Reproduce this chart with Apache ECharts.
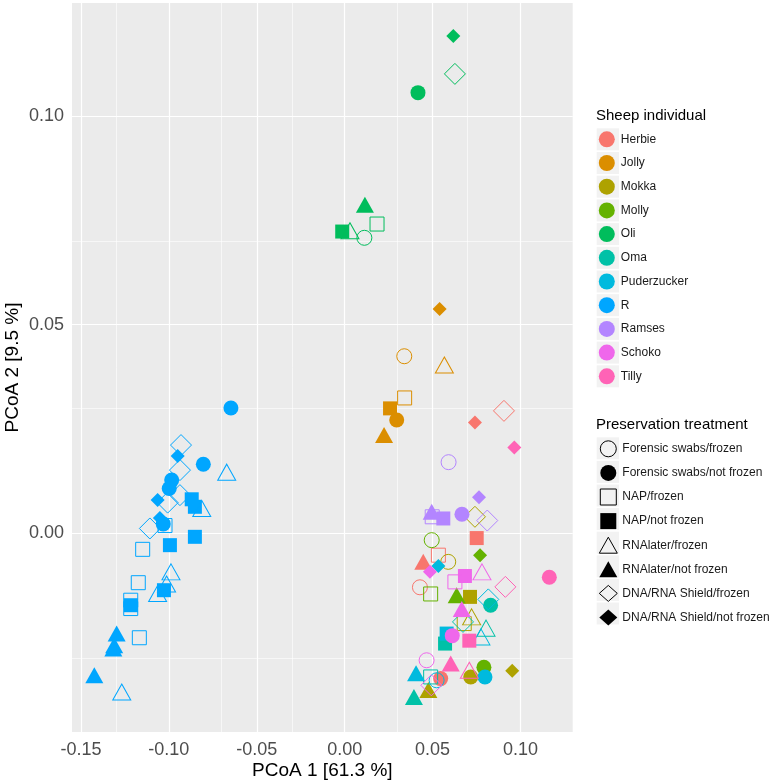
<!DOCTYPE html>
<html><head><meta charset="utf-8">
<script src="https://cdn.jsdelivr.net/npm/echarts@6/dist/echarts.min.js"></script>
<style>html,body{margin:0;padding:0;background:#fff}#c{width:773px;height:783px}</style>
</head><body><div id="c"></div>
<script>
// ---- data ----
const individuals = ['Herbie','Jolly','Mokka','Molly','Oli','Oma','Puderzucker','R','Ramses','Schoko','Tilly'];
const colors = ['#F8766D','#DB8E00','#AEA200','#64B200','#00BD5C','#00C1A7','#00BADE','#00A6FF','#B385FF','#EF67EB','#FF63B6'];
const treatments = ['Forensic swabs/frozen','Forensic swabs/not frozen','NAP/frozen','NAP/not frozen','RNAlater/frozen','RNAlater/not frozen','DNA/RNA Shield/frozen','DNA/RNA Shield/not frozen'];
// [PCoA1, PCoA2, treatment index]
const herbie = [[0.0741,0.0265,7],[0.0906,0.0293,6],[0.0751,-0.0012,3],[0.0447,-0.0069,5],[0.0428,-0.0130,0],[0.0533,-0.0053,2],[0.0546,-0.0349,1]];
const jolly = [[0.0540,0.0537,7],[0.0339,0.0424,0],[0.0567,0.0403,4],[0.0341,0.0324,2],[0.0258,0.0299,3],[0.0296,0.0271,1],[0.0224,0.0235,5]];
const mokka = [[0.0741,0.0039,6],[0.0589,-0.0069,0],[0.0713,-0.0153,3],[0.0722,-0.0201,4],[0.0680,-0.0217,2],[0.0717,-0.0345,1],[0.0953,-0.0330,7],[0.0476,-0.0376,5]];
const molly = [[0.0495,-0.0017,0],[0.0770,-0.0053,7],[0.0489,-0.0146,2],[0.0637,-0.0149,5],[0.0792,-0.0322,1]];
const oli = [[0.0618,0.1192,7],[0.0627,0.1101,6],[0.0417,0.1056,1],[0.0115,0.0787,5],[0.0184,0.0741,2],[-0.0014,0.0723,3],[0.0030,0.0725,4],[0.0112,0.0708,0]];
const oma = [[0.0830,-0.0173,1],[0.0673,-0.0213,6],[0.0571,-0.0265,3],[0.0394,-0.0393,5],[0.0804,-0.0228,4],[0.0489,-0.0345,2]];
const puderzucker = [[0.0533,-0.0079,7],[0.0580,-0.0241,3],[0.0775,-0.0249,4],[0.0817,-0.0159,6],[0.0406,-0.0336,5],[0.0798,-0.0345,1],[0.0523,-0.0353,0]];
const rSheep = [[-0.0647,0.0300,1],[-0.0931,0.0211,6],[-0.0950,0.0185,7],[-0.0804,0.0165,1],[-0.0671,0.0146,4],[-0.0937,0.0151,6],[-0.0984,0.0127,1],[-0.0998,0.0107,1],[-0.0937,0.0091,6],[-0.1064,0.0079,7],[-0.1007,0.0073,6],[-0.0870,0.0081,3],[-0.0852,0.0063,3],[-0.0813,0.0059,4],[-0.1108,0.0011,6],[-0.1032,0.0022,1],[-0.1022,0.0018,2],[-0.1051,0.0036,7],[-0.0852,-0.0009,3],[-0.0994,-0.0029,3],[-0.1149,-0.0039,2],[-0.0988,-0.0093,4],[-0.1174,-0.0119,2],[-0.1013,-0.0122,4],[-0.1028,-0.0137,3],[-0.1064,-0.0145,4],[-0.1217,-0.0161,2],[-0.1216,-0.0173,3],[-0.1217,-0.0181,2],[-0.1297,-0.0241,5],[-0.1311,-0.0269,5],[-0.1316,-0.0277,5],[-0.1168,-0.0251,2],[-0.1424,-0.0341,5],[-0.1268,-0.0381,4]];
const ramses = [[0.0591,0.0170,0],[0.0764,0.0086,7],[0.0495,0.0051,5],[0.0498,0.0039,2],[0.0561,0.0035,3],[0.0667,0.0045,1],[0.0811,0.0030,6]];
const schoko = [[0.0466,-0.0305,0],[0.0612,-0.0246,1],[0.0684,-0.0103,3],[0.0781,-0.0093,4],[0.0666,-0.0182,5],[0.0485,-0.0093,7],[0.0627,-0.0117,2],[0.0493,-0.0365,6]];
const tilly = [[0.0965,0.0205,7],[0.1164,-0.0106,1],[0.0914,-0.0129,6],[0.0603,-0.0313,5],[0.0709,-0.0329,4],[0.0709,-0.0258,3]];
const samples = [herbie, jolly, mokka, molly, oli, oma, puderzucker, rSheep, ramses, schoko, tilly];

const xMajor = [-0.15,-0.10,-0.05,0,0.05,0.10];
const xMinor = [-0.125,-0.075,-0.025,0.025,0.075,0.125];
const yMajor = [0,0.05,0.10];
const yMinor = [-0.025,0.025,0.075,0.125];
const xRange = [-0.1551, 0.1297];
const yRange = [-0.0477, 0.1271];

// ---- styles ----
const FONT = '"Liberation Sans", Arial, sans-serif';
const shapes = ['circle','circle','rect','rect','triangle','triangle','diamond','diamond'];
const filled = [false,true,false,true,false,true,false,true];
const sizes = [15,15,14,14,[18,16],[18,16],21,14];
const legendIcons = ['circle','circle','path://M0,0L10,0L10,10L0,10Z','path://M0,0L10,0L10,10L0,10Z','triangle','triangle','diamond','diamond'];

const series = [];
series.push({
  type:'scatter', name:'__grid', data:[], silent:true, z:1,
  markLine:{
    silent:true, symbol:['none','none'], label:{show:false}, z:1, animation:false,
    emphasis:{disabled:true},
    data:[
      ...xMinor.map(v=>({xAxis:v, lineStyle:{color:'#fff', width:0.6, type:'solid', opacity:1}})),
      ...yMinor.map(v=>({yAxis:v, lineStyle:{color:'#fff', width:0.6, type:'solid', opacity:1}})),
      ...xMajor.map(v=>({xAxis:v, lineStyle:{color:'#fff', width:1.2, type:'solid', opacity:1}})),
      ...yMajor.map(v=>({yAxis:v, lineStyle:{color:'#fff', width:1.2, type:'solid', opacity:1}}))
    ]
  }
});
individuals.forEach((name,i)=>{
  const col = colors[i];
  series.push({
    type:'scatter', name:name, z:2,
    itemStyle:{color:col, opacity:1},
    emphasis:{disabled:true},
    data: samples[i].map(p=>{
      const t = p[2];
      return {
        value:[p[0],p[1]],
        symbol: shapes[t],
        symbolSize: sizes[t],
        itemStyle: filled[t] ? {color:col, borderWidth:0, opacity:1} : {color:'rgba(0,0,0,0)', borderColor:col, borderWidth:1, opacity:1}
      };
    })
  });
});
treatments.forEach((name,t)=>{
  series.push({type:'scatter', name:name, data:[], symbol:shapes[t],
    itemStyle: filled[t] ? {color:'#000', opacity:1} : {color:'rgba(0,0,0,0)', borderColor:'#000', borderWidth:1, opacity:1}});
});

const graphics = [];
for (let i=0;i<individuals.length;i++){
  graphics.push({type:'rect', z:-1, shape:{x:596.7, y:139.3+i*23.7-11, width:22.3, height:22}, style:{fill:'#F2F2F2'}});
}
for (let i=0;i<treatments.length;i++){
  graphics.push({type:'rect', z:-1, shape:{x:596.7, y:448.3+i*23.6-11, width:22.3, height:22}, style:{fill:'#F2F2F2'}});
}
graphics.push({type:'text', x:596, y:115.7, style:{text:'Sheep individual', font:'15px '+FONT, fill:'#000', verticalAlign:'middle'}});
graphics.push({type:'text', x:596, y:425, style:{text:'Preservation treatment', font:'15px '+FONT, fill:'#000', verticalAlign:'middle'}});

const legendBase = {
  orient:'vertical', left:598.8, itemWidth:18, itemHeight:16, padding:0,
  selectedMode:false, symbolKeepAspect:true,
  textStyle:{fontSize:12, color:'#1A1A1A', fontFamily:FONT}
};

const option = {
  animation:false,
  backgroundColor:'#fff',
  textStyle:{fontFamily:FONT},
  grid:{left:72, right:200.3, top:3, bottom:51, show:true, backgroundColor:'#EBEBEB', borderWidth:0, containLabel:false, outerBoundsMode:'none'},
  xAxis:{
    type:'value', min:xRange[0], max:xRange[1],
    name:'PCoA 1 [61.3 %]', nameLocation:'middle', nameGap:29, nameMoveOverlap:false,
    nameTextStyle:{fontSize:19, color:'#000', fontFamily:FONT},
    axisLine:{show:false},
    axisTick:{show:true, length:4, customValues:xMajor, lineStyle:{color:'#333', width:1}},
    axisLabel:{customValues:xMajor, margin:9, fontSize:18, color:'#4D4D4D', fontFamily:FONT, formatter:v=>Number(v).toFixed(2)},
    splitLine:{show:false}
  },
  yAxis:{
    type:'value', min:yRange[0], max:yRange[1],
    name:'PCoA 2 [9.5 %]', nameLocation:'middle', nameGap:50, nameMoveOverlap:false,
    nameTextStyle:{fontSize:19, color:'#000', fontFamily:FONT},
    axisLine:{show:false},
    axisTick:{show:true, length:4, customValues:yMajor, lineStyle:{color:'#333', width:1}},
    axisLabel:{customValues:yMajor, margin:8, fontSize:18, color:'#4D4D4D', fontFamily:FONT, formatter:v=>Number(v).toFixed(2)},
    splitLine:{show:false}
  },
  legend:[
    Object.assign({}, legendBase, {
      top:131.3, itemGap:7.7,
      data: individuals.map((n,i)=>({name:n, icon:'circle', itemStyle:{color:colors[i], borderWidth:0, opacity:1}}))
    }),
    Object.assign({}, legendBase, {
      top:440.3, itemGap:7.6,
      data: treatments.map((n,t)=>({name:n, icon:legendIcons[t],
        itemStyle: filled[t] ? {color:'#000', borderWidth:0, opacity:1} : {color:'rgba(0,0,0,0)', borderColor:'#000', borderWidth:1, opacity:1}}))
    })
  ],
  graphic: graphics,
  series: series
};
const chart = echarts.init(document.getElementById('c'), null, {renderer:'canvas'});
chart.setOption(option);
</script>
</body></html>
